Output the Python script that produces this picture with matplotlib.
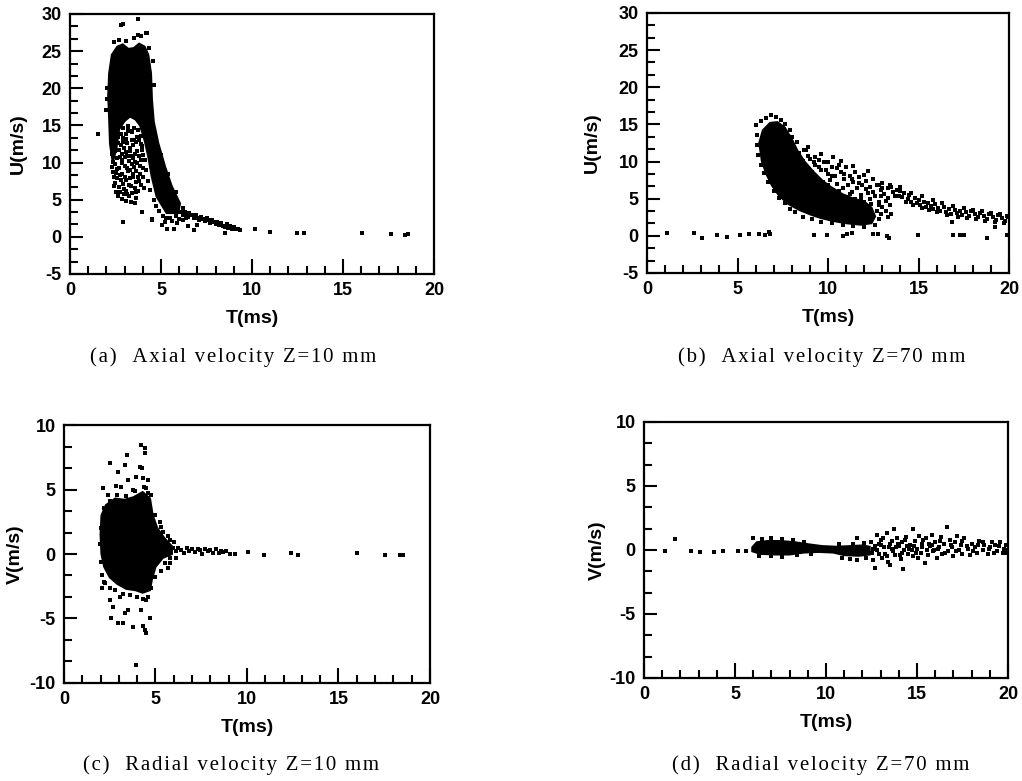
import matplotlib
matplotlib.use("Agg")
import matplotlib.pyplot as plt
from matplotlib.ticker import MultipleLocator, AutoMinorLocator

plt.rcParams["axes.unicode_minus"] = False

# ---- panel (a): axial velocity, Z=10 mm ----
core_a_t = [2.15, 2.3, 2.6, 2.9, 3.2, 3.5, 3.8, 4.1, 4.3, 4.45, 4.5, 4.6, 4.85, 5.22, 5.59, 6.04,
            5.95, 5.31, 4.76, 4.49, 4.3, 4.1, 3.85, 3.6, 3.3, 3.0, 2.7, 2.55, 2.35, 2.2, 2.15, 2.1]
core_a_u = [22.0, 24.5, 25.6, 25.9, 25.3, 25.4, 26.0, 25.6, 24.5, 22.0, 18.5, 15.5, 12.6, 9.45, 6.8, 4.5,
            3.2, 3.2, 5.4, 8.1, 10.8, 13.0, 15.0, 15.8, 16.2, 15.6, 14.5, 12.0, 10.0, 12.5, 16.0, 19.0]
pts_a_t = [2.45, 2.5, 2.6, 2.7, 2.75, 2.8, 2.85, 2.9, 2.95, 3.0, 3.05, 3.1, 3.1, 3.15, 3.2, 3.25, 3.3,
           3.35, 3.4, 3.45, 3.5, 3.55, 3.6, 3.6, 3.65, 3.7, 3.75, 3.8, 3.85, 3.9, 3.95, 4.0, 2.65, 2.9,
           3.2, 3.5, 2.55, 2.85, 3.35, 3.05, 2.4, 2.3, 2.95, 3.45, 3.75, 4.05, 2.7, 3.25,
           2.35, 2.45, 2.6, 2.75, 2.85, 3.0, 3.15, 3.3, 3.4, 3.55, 3.65, 3.8, 3.9, 4.0, 3.7, 3.45,
           3.15, 2.9, 2.6, 3.3,
           2.32, 2.38, 2.42, 2.52, 2.58, 2.62, 2.68, 2.72, 2.78, 2.82, 2.88, 2.92, 2.98, 3.02, 3.08,
           3.12, 3.18, 3.22, 3.28, 3.32, 3.38, 3.42, 3.48, 3.52, 3.58, 3.62, 3.68, 3.72, 3.78, 3.82,
           3.88, 3.92, 3.98, 4.02, 2.36, 2.48, 2.66, 2.84, 3.06, 3.36,
           2.4, 2.7, 3.1, 3.5, 3.9, 4.2, 4.35, 4.55, 4.6, 2.05, 2.0, 2.05,
           1.56, 2.8, 2.93, 3.72, 3.74, 4.21, 2.93, 2.56, 3.57, 3.94, 4.52, 5.04, 5.35, 5.71, 4.49,
           5.5, 5.8, 6.0, 5.2, 4.7, 4.9, 5.1, 5.3, 5.6, 6.2, 6.4, 5.9, 4.6, 4.4, 4.3, 4.2, 4.1, 5.0,
           5.4, 5.8, 6.2,
           6.1, 6.2, 6.3, 6.4, 6.5, 6.55, 6.7, 6.8, 6.9, 7.0, 7.1, 7.2, 7.3, 7.4, 7.5, 7.6, 7.7, 7.8,
           7.9, 8.0, 8.1, 8.2, 8.3, 8.4, 8.5, 8.6, 8.7, 8.8, 8.9, 9.0, 9.1, 9.25, 9.35, 6.5, 6.8,
           6.96, 8.52, 10.16, 10.99, 12.45, 12.86, 16.03, 17.64, 18.4, 18.55]
pts_a_u = [9.8, 8.6, 7.9, 9.2, 10.8, 12.3, 8.4, 7.1, 6.5, 9.6, 11.4, 13.2, 7.6, 5.8, 8.9, 10.2, 12.0,
           6.9, 14.1, 8.1, 9.4, 11.1, 5.2, 7.4, 12.8, 9.9, 6.2, 10.9, 8.5, 13.6, 11.7, 9.2, 13.4, 14.6,
           14.9, 13.0, 6.0, 5.1, 4.7, 4.8, 8.0, 9.4, 11.9, 10.6, 14.4, 6.6, 6.7, 5.5,
           8.7, 7.2, 10.6, 6.1, 9.9, 8.1, 10.9, 7.9, 9.8, 6.6, 8.8, 7.5, 12.5, 11.0, 13.5, 12.3,
           12.6, 13.3, 14.0, 14.2,
           11.2, 13.6, 6.9, 12.9, 9.1, 5.5, 11.7, 8.3, 13.9, 7.6, 10.4, 12.8, 5.7, 10.8, 6.2,
           9.3, 14.4, 7.0, 11.5, 9.0, 13.1, 5.9, 8.4, 14.7, 10.1, 6.1, 11.6, 8.0, 13.0, 9.5,
           7.0, 10.3, 12.2, 8.0, 10.1, 11.6, 12.6, 11.2, 13.8, 10.9,
           26.2, 26.5, 26.3, 26.8, 27.0, 27.4, 25.4, 23.7, 20.5, 18.5, 17.1, 20.0,
           13.85, 28.5, 28.7, 29.3, 27.2, 27.5, 2.0, 6.1, 4.5, 3.3, 2.3, 1.6, 1.1, 1.1, 2.4,
           2.5, 2.8, 2.4, 2.0, 4.2, 3.5, 2.8, 2.5, 2.1, 2.2, 2.5, 1.8, 4.9, 6.3, 7.5, 9.0, 10.4, 11.0,
           8.5, 6.0, 3.9,
           3.3, 2.9, 3.4, 3.0, 2.7, 3.2, 2.9, 2.5, 3.0, 2.6, 2.3, 2.7, 2.4, 2.1, 2.5, 2.2, 1.9, 2.3,
           2.0, 1.7, 2.0, 1.6, 1.9, 1.5, 1.3, 1.7, 1.2, 1.4, 1.1, 1.3, 1.0, 1.1, 0.9, 1.4, 0.9,
           1.6, 0.5, 1.1, 0.66, 0.53, 0.53, 0.53, 0.4, 0.2, 0.4]

# ---- panel (b): axial velocity, Z=70 mm ----
core_b_t = [6.2, 6.4, 6.8, 7.2, 7.6, 8.0, 8.3, 8.7, 9.2, 9.7, 10.2, 10.8, 11.4, 12.0, 12.4, 12.6,
            12.4, 11.8, 11.0, 10.3, 9.6, 9.0, 8.4, 7.8, 7.3, 6.9, 6.6, 6.35]
core_b_u = [12.5, 14.2, 15.2, 15.3, 14.6, 13.0, 11.5, 10.0, 8.6, 7.4, 6.5, 5.6, 5.0, 4.6, 3.8, 2.6,
            1.7, 1.5, 1.7, 2.0, 2.4, 2.9, 3.5, 4.3, 5.4, 6.8, 8.3, 10.0]
pts_b_t = [6.0, 6.1, 6.3, 6.6, 6.85, 7.1, 7.4, 7.6, 7.9, 8.0, 8.3, 6.05, 6.15, 6.3, 6.45, 6.7, 7.0,
           7.3, 7.6, 7.9, 8.2, 8.6, 9.1, 9.6, 10.2, 10.8, 11.4, 12.0, 12.6, 12.8, 13.3, 13.2, 12.9,
           8.4, 8.6, 8.8, 8.7, 9.0, 9.1, 9.3, 9.4, 9.6, 9.7, 9.8, 9.9, 10.0, 10.1, 10.2, 10.3, 10.4,
           10.5, 10.6, 10.7, 10.8, 10.9, 11.0, 11.1, 11.2, 11.3, 11.4, 11.5, 11.6, 11.7, 11.8, 11.9,
           12.0, 12.1, 12.2, 12.3, 12.4, 12.5, 12.6, 12.7, 12.8, 12.9, 13.0, 13.1, 13.2, 13.3, 9.5,
           10.0, 10.6, 11.0, 11.5, 12.0, 8.9, 9.6, 10.3,
           8.2, 8.5, 8.9, 9.2, 9.5, 9.9, 10.2, 10.5, 10.9, 11.3, 11.7, 12.1, 12.5, 12.9, 13.3, 10.0,
           10.6, 11.2, 11.8, 12.3, 12.8, 13.0, 12.7, 13.4, 13.5, 8.8, 9.3, 10.7, 11.4, 12.2,
           13.5, 13.6, 13.8, 13.9, 14.0, 14.1, 14.2, 14.4, 14.5, 14.6, 14.8, 14.9, 15.0, 15.1, 15.3,
           15.4, 15.5, 15.7, 15.8, 15.9, 16.1, 16.2, 16.4, 16.5, 16.7, 16.8, 17.0, 17.1, 17.3, 17.4,
           17.6, 17.8, 17.9, 18.1, 18.3, 18.4, 18.6, 18.8, 18.9, 19.1, 19.3, 19.4, 19.6, 19.8, 19.9,
           16.85, 19.2, 13.4, 13.0, 12.8,
           13.7, 14.3, 14.7, 15.2, 15.6, 16.0, 16.6, 17.2, 17.7, 18.2, 18.7, 19.2, 19.7, 14.0, 14.6,
           15.2, 15.8, 16.3, 16.9, 17.5, 18.0, 18.5, 19.0, 19.5, 19.95,
           1.1, 2.58, 3.04, 3.87, 4.42, 5.16, 5.62, 6.17, 6.54, 6.72, 6.8, 9.24, 9.93, 10.85, 11.03,
           11.3, 12.5, 12.78, 13.24, 13.35, 14.95, 16.9, 17.3, 17.5, 18.8, 19.87, 19.9]
pts_b_u = [14.9, 13.6, 15.4, 15.8, 16.2, 16.0, 15.6, 15.1, 14.2, 13.3, 12.6, 12.2, 10.9, 9.6, 8.4,
           7.3, 6.0, 5.1, 4.4, 3.6, 3.2, 2.6, 2.2, 1.9, 1.7, 1.5, 1.3, 1.2, 1.5, 2.2, 2.5, 3.4, 3.0,
           11.2, 10.1, 9.3, 11.5, 10.4, 8.6, 9.6, 7.8, 8.9, 7.2, 9.9, 6.6, 8.3, 7.5, 9.3, 6.2, 8.0,
           7.0, 5.6, 8.6, 6.5, 7.6, 5.2, 6.9, 8.0, 5.9, 7.2, 4.9, 6.4, 7.9, 5.5, 6.8,
           4.6, 7.4, 5.8, 6.6, 4.3, 7.7, 5.3, 6.9, 4.1, 6.2, 7.1, 5.6, 4.7, 6.5, 10.2,
           10.0, 9.5, 9.2, 8.6, 8.2, 12.0, 11.0, 10.6,
           9.8, 8.7, 10.8, 9.9, 9.2, 8.8, 8.1, 9.1, 8.3, 7.7, 7.1, 6.3, 5.9, 5.3, 5.1, 6.9,
           6.1, 5.6, 5.1, 4.9, 4.6, 3.9, 3.3, 4.2, 3.0, 11.6, 10.6, 10.1, 9.4, 8.7,
           6.6, 5.9, 6.2, 5.4, 6.0, 5.2, 5.7, 4.9, 5.5, 4.6, 5.1, 4.4, 4.8, 4.1, 4.6,
           3.9, 4.4, 4.0, 3.6, 4.3, 3.8, 3.4, 3.9, 3.2, 3.6, 3.0, 3.5, 3.1, 3.4, 2.8,
           3.2, 2.7, 3.3, 2.9, 2.5, 3.1, 2.7, 2.3, 2.9, 2.5, 2.1, 2.8, 2.4, 2.0, 2.7,
           1.9, 1.2, 6.9, 6.4, 6.8,
           5.3, 4.5, 4.2, 3.8, 3.5, 3.2, 2.8, 2.6, 2.4, 2.2, 2.0, 1.8, 1.7, 6.6, 5.8,
           5.3, 4.8, 4.4, 4.0, 3.7, 3.5, 3.3, 3.1, 3.0, 2.6,
           0.36, 0.36, -0.27, 0.1, -0.18, 0.1, 0.27, 0.27, 0.1, 0.45, 0.3, 0.1, 0.1, 0.0, 0.2,
           0.35, 0.3, 0.3, -0.05, -0.27, 0.05, 0.1, 0.1, 0.1, -0.27, 0.1, 0.1]

# ---- panel (c): radial velocity, Z=10 mm ----
core_c_t = [2.05, 2.3, 2.8, 3.3, 3.8, 4.3, 4.7, 4.85, 5.1, 5.5, 5.9, 5.9, 5.4, 5.0, 4.8, 4.7,
            4.3, 3.9, 3.4, 2.9, 2.5, 2.2, 2.05, 2.0]
core_c_v = [3.0, 3.8, 4.3, 4.2, 4.4, 4.8, 4.3, 3.0, 2.0, 1.2, 0.6, 0.0, -0.3, -1.0, -2.0, -2.8,
            -3.0, -2.8, -2.7, -2.3, -1.8, -1.0, 0.0, 1.5]
pts_c_t = [4.23, 4.45, 4.45, 3.46, 2.5, 3.32, 4.14, 4.28, 2.95, 3.96, 4.3, 4.59, 3.5, 2.13, 2.86,
           3.14, 3.77, 4.5, 4.78, 2.4,
           2.22, 2.5, 2.68, 2.59, 2.95, 3.23, 3.5, 3.32, 3.77, 4.23, 4.32, 4.45, 4.5, 4.69, 3.96,
           4.5, 3.05, 2.1, 5.69, 5.5, 5.78, 5.23, 5.78, 5.41, 5.23,
           2.0, 1.95, 2.0, 2.1, 2.2, 2.5, 2.8, 3.2, 3.6, 4.0, 4.3, 4.6, 4.75, 2.2, 2.5, 2.9, 3.4,
           3.9, 4.4, 4.6, 5.0, 5.3, 5.7, 6.0, 6.1, 5.8, 5.3, 5.0,
           5.96, 6.1, 6.25, 6.42, 6.55, 6.7, 6.85, 7.0, 7.15, 7.3, 7.42, 7.55, 7.7, 7.85, 8.0, 8.15,
           8.3, 8.45, 8.6, 8.7, 8.85, 9.06, 9.33, 10.06, 10.94, 12.43, 12.8, 15.99, 17.54, 18.36,
           18.54]
pts_c_v = [8.45, 8.19, 7.86, 7.67, 7.08, 6.9, 6.77, 6.64, 6.38, 5.94, 5.87, 5.74, 5.74, 5.09, 5.27,
           5.22, 4.96, 5.09, 4.57, 4.57,
           -2.22, -3.57, -4.08, -4.99, -5.37, -5.37, -4.34, -4.6, -5.63, -4.34, -5.58, -5.89, -6.15,
           -4.99, -8.6, -3.57, -3.3, -2.6, -1.11, -0.67, -0.34, 0.83, 1.09, 1.73, 2.5,
           2.0, 0.8, -0.6, -1.6, -2.2, -2.6, -2.8, -3.1, -3.2, -3.3, -3.5, -3.3, -2.6, 3.6, 4.1,
           4.6, 4.5, 4.9, 5.2, 4.7, 3.0, 2.1, 1.4, 0.9, -0.3, -0.7, -1.3, -1.8,
           0.44, 0.2, 0.5, 0.3, 0.1, 0.45, 0.25, 0.4, 0.15, 0.35, 0.3, 0.0, 0.4, 0.2, 0.3, 0.1,
           0.35, 0.05, 0.25, 0.15, 0.2, 0.0, 0.0, 0.15, -0.08, 0.1, -0.08, 0.05, -0.08, -0.08,
           -0.08]

# ---- panel (d): radial velocity, Z=70 mm ----
core_d_t = [5.95, 6.2, 6.8, 7.5, 8.3, 9.0, 9.8, 10.6, 11.3, 12.0, 12.4, 12.4, 11.8, 11.0, 10.4,
            9.6, 8.8, 8.0, 7.2, 6.4, 5.95]
core_d_v = [0.2, 0.6, 0.7, 0.7, 0.6, 0.45, 0.3, 0.25, 0.3, 0.35, 0.25, -0.35, -0.45, -0.4, -0.2,
            -0.15, -0.2, -0.35, -0.35, -0.3, -0.1]
pts_d_t = [1.14, 1.69, 2.56, 3.08, 3.85, 4.36, 5.18, 5.6,
           6.0, 6.5, 7.0, 7.6, 8.2, 8.8, 6.3, 7.0, 7.6, 8.4, 9.2, 10.9, 11.3, 11.7, 12.2, 10.7, 11.5,
           12.1, 11.72,
           12.5, 12.6, 12.7, 12.69, 12.78, 12.9, 13.0, 13.1, 13.2, 13.33, 13.4, 13.5, 13.52, 13.6,
           13.74, 13.8, 13.9, 14.0, 14.1, 14.2, 14.25, 14.3, 14.4, 14.5, 14.6, 14.76, 14.8, 14.9,
           15.0, 15.1, 15.2, 15.3, 15.44, 15.5, 15.6, 15.7, 15.8, 15.9, 16.0, 16.1, 16.2, 16.3,
           16.4, 16.5, 16.67, 16.7, 16.8, 16.9, 17.0, 17.1, 17.2, 17.3, 17.4, 17.5, 17.6, 17.8,
           17.9, 18.0, 18.2, 18.3, 18.4, 18.6, 18.7, 18.9, 19.0, 19.1, 19.3, 19.4, 19.5, 19.74,
           19.8, 19.9, 19.95,
           12.55, 12.8, 13.05, 13.25, 13.45, 13.7, 13.95, 14.15, 14.45, 14.7, 14.95, 15.25, 15.55,
           15.85, 16.15,
           12.6, 12.9, 13.15, 13.35, 13.65, 13.85, 14.05, 14.35, 14.55, 14.85, 15.05, 15.35, 15.65,
           15.95, 16.25, 16.55, 16.85, 17.15, 17.45, 17.75, 18.05, 18.35, 18.65, 18.95, 19.25,
           19.55, 19.85]
pts_d_v = [-0.08, 0.83, -0.05, -0.13, -0.13, -0.08, -0.08, -0.05,
           0.9, 0.85, 0.95, 0.85, 0.75, 0.6, -0.5, -0.45, -0.55, -0.4, -0.3, -0.6, -0.7, -0.75,
           -0.65, 0.45, 0.5, 0.55, 0.91,
           0.6, -0.8, 0.3, -1.43, 1.17, -0.3, 0.8, -0.6, 0.2, 1.3, -0.9, 0.5, -1.17, 0.1,
           1.64, -0.4, 0.9, 0.3, -0.7, 0.6, -1.51, 0.0, 1.0, -0.3, 0.4, 1.61, -0.5, 0.7,
           0.1, 1.1, -0.2, 0.5, -0.99, 0.9, -0.4, 0.3, 1.2, -0.1, 0.6, -0.6, 0.2, 1.0,
           -0.3, 0.5, 1.82, -0.1, 0.8, 0.2, -0.5, 0.6, 1.1, 0.0, 0.4, -0.3, 0.9, 0.1,
           -0.4, 0.5, 0.2, -0.2, 0.7, 0.0, 0.4, -0.3, 0.2, 0.6, 0.39, -0.1, 0.3, -0.26,
           0.1, 0.4, -0.2,
           -0.2, 0.0, 0.4, -0.3, 0.2, -0.1, 0.5, -0.2, 0.3, 0.0, -0.2, 0.2, 0.0, 0.4, 0.1,
           0.1, 0.5, 0.9, -0.5, 0.7, 0.2, -0.4, 0.8, 0.1, 0.3, -0.6, 0.8, 0.5, 0.0, 0.7,
           -0.2, 0.4, -0.1, 0.7, 0.3, -0.1, 0.4, 0.6, 0.1, -0.2, 0.6, 0.0]

panels = [
    dict(pos=[0.0685, 0.6492, 0.3562, 0.3329], ct=core_a_t, cy=core_a_u, pt=pts_a_t, py=pts_a_u,
         ylim=(-5, 30), ylabel="U(m/s)", lab_x=-0.118,
         cap="(a)  Axial velocity Z=10 mm", cap_xy=(0.228, 0.543)),
    dict(pos=[0.6331, 0.6505, 0.3542, 0.3329], ct=core_b_t, cy=core_b_u, pt=pts_b_t, py=pts_b_u,
         ylim=(-5, 30), ylabel="U(m/s)", lab_x=-0.127,
         cap="(b)  Axial velocity Z=70 mm", cap_xy=(0.804, 0.543)),
    dict(pos=[0.0626, 0.1255, 0.3581, 0.3303], ct=core_c_t, cy=core_c_v, pt=pts_c_t, py=pts_c_v,
         ylim=(-10, 10), ylabel="V(m/s)", lab_x=-0.109,
         cap="(c)  Radial velocity Z=10 mm", cap_xy=(0.226, 0.0205)),
    dict(pos=[0.6301, 0.1319, 0.3562, 0.3278], ct=core_d_t, cy=core_d_v, pt=pts_d_t, py=pts_d_v,
         ylim=(-10, 10), ylabel="V(m/s)", lab_x=-0.104,
         cap="(d)  Radial velocity Z=70 mm", cap_xy=(0.803, 0.0205)),
]


def spaced(s):
    # the printed captions are letter-spaced; hair spaces between characters imitate that
    return "\u200a".join(s)


fig = plt.figure(figsize=(10.22, 7.81), dpi=100)
for p in panels:
    ax = fig.add_axes(p["pos"])
    ax.fill(p["ct"], p["cy"], color="black", lw=1.5)
    ax.scatter(p["pt"], p["py"], s=6, marker="s", color="black", linewidths=0)
    ax.set_xlim(0, 20)
    ax.set_ylim(*p["ylim"])
    ax.xaxis.set_major_locator(MultipleLocator(5))
    ax.xaxis.set_minor_locator(MultipleLocator(1))
    ax.yaxis.set_major_locator(MultipleLocator(5))
    ax.yaxis.set_minor_locator(AutoMinorLocator(3))
    ax.tick_params(which="both", direction="in", top=False, right=False, width=1.5)
    ax.tick_params(axis="x", which="major", length=11, pad=6)
    ax.tick_params(axis="x", which="minor", length=6)
    ax.tick_params(axis="y", which="major", length=9, pad=6)
    ax.tick_params(axis="y", which="minor", length=6)
    for lab in ax.get_xticklabels() + ax.get_yticklabels():
        lab.set_fontfamily("Liberation Sans")
        lab.set_fontweight("bold")
        lab.set_fontsize(13)
    for s in ax.spines.values():
        s.set_linewidth(1.6)
    ax.set_xlabel("T(ms)", fontfamily="Liberation Sans", fontweight="bold", fontsize=14, labelpad=8)
    ax.set_ylabel(p["ylabel"], fontfamily="Liberation Sans", fontweight="bold", fontsize=14)
    ax.yaxis.set_label_coords(p["lab_x"], 0.5)
    fig.text(p["cap_xy"][0], p["cap_xy"][1], spaced(p["cap"]), ha="center", va="center",
             family=["Liberation Serif", "DejaVu Serif"], fontsize=15)

fig.savefig("out.png", dpi=100)
